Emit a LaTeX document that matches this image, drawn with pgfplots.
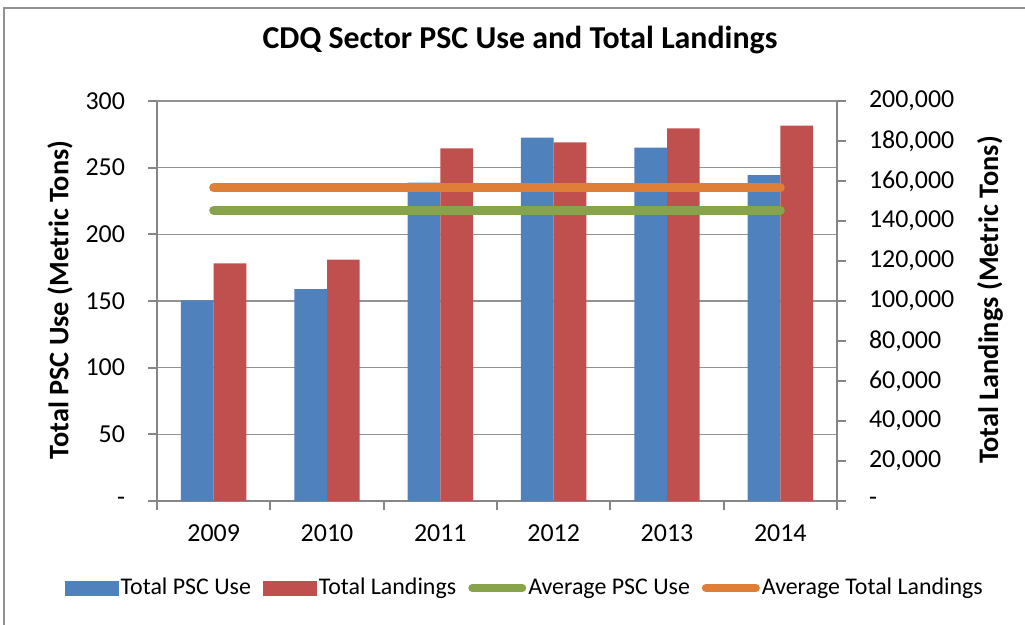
\documentclass[border=0pt]{standalone}
\usepackage{fontspec}
\setmainfont{Carlito}
\usepackage{pgfplots}
\pgfplotsset{compat=1.18}

\definecolor{pscblue}{HTML}{4F81BD}
\definecolor{landred}{HTML}{C0504D}
\definecolor{avggreen}{HTML}{88A44B}
\definecolor{avgorange}{HTML}{DF7E36}
\definecolor{axisgray}{HTML}{868686}

\pgfplotsset{
  cdqbase/.style={
    scale only axis, width=340bp, height=200bp,
    xmin=-0.5, xmax=5.5,
    font=\fontsize{13}{15}\selectfont,
    tick align=outside, major tick length=4.5bp,
    axis line style={axisgray, line width=0.9bp},
    tick style={axisgray, line width=0.9bp},
    /pgf/number format/assume math mode=true,
    scaled y ticks=false,
  },
}

\begin{document}
\begin{tikzpicture}
\useasboundingbox (-78.5bp,-62bp) rectangle (434bp,250.5bp);
% outer chart frame
\draw[axisgray!90, line width=1.2bp] (-76.5bp,-80bp) -- (-76.5bp,246.5bp) -- (450bp,246.5bp);

% left axis: PSC use (metric tons)
\begin{axis}[cdqbase,
  ymin=0, ymax=300,
  axis x line*=bottom, axis y line*=left,
  xtick={-0.5,0.5,1.5,2.5,3.5,4.5,5.5}, xticklabels={},
  extra x ticks={0,1,2,3,4,5},
  extra x tick labels={2009,2010,2011,2012,2013,2014},
  extra x tick style={major tick length=0pt,
    xticklabel style={yshift=-8.5bp}},
  ytick={0,50,100,150,200,250,300},
  yticklabels={-,50,100,150,200,250,300},
  yticklabel style={xshift=-8bp},
  ymajorgrids, major grid style={axisgray!90, line width=0.65bp},
]
\addplot[ybar, fill=pscblue, draw=none, bar width=16.35bp, bar shift=-8.175bp]
  coordinates {(0,150.5) (1,159) (2,238.8) (3,272.5) (4,265) (5,244.5)};
\end{axis}

% right axis: total landings (metric tons)
\begin{axis}[cdqbase,
  ymin=0, ymax=200000,
  axis x line=none, axis y line*=right,
  ytick={0,20000,40000,60000,80000,100000,120000,140000,160000,180000,200000},
  yticklabels={-,{20,000},{40,000},{60,000},{80,000},{100,000},{120,000},{140,000},{160,000},{180,000},{200,000}},
  yticklabel style={xshift=8bp},
]
\addplot[ybar, fill=landred, draw=none, bar width=16.35bp, bar shift=8.175bp]
  coordinates {(0,118850) (1,120650) (2,176350) (3,179350) (4,186350) (5,187650)};
\addplot[avgorange, line width=4.5bp, line cap=round]
  coordinates {(0,156650) (5,156650)};
\end{axis}

% average PSC use on the left scale, plus the legend
\begin{axis}[cdqbase,
  ymin=0, ymax=300, hide axis,
  legend columns=4,
  legend style={at={(0.541,-0.2175)}, anchor=center, draw=none, fill=none,
    font=\fontsize{12}{14}\selectfont, inner sep=0pt,
    nodes={inner sep=1bp},
    /tikz/every even column/.append style={column sep=5bp}},
]
\addlegendimage{legend image code/.code={\fill[pscblue] (0bp,-3.5bp) rectangle (26.5bp,3.5bp);}}
\addlegendentry{Total PSC Use}
\addlegendimage{legend image code/.code={\fill[landred] (0bp,-3.5bp) rectangle (26.5bp,3.5bp);}}
\addlegendentry{Total Landings}
\addlegendimage{legend image code/.code={\draw[avggreen, line width=4bp, line cap=round] (2bp,0bp) -- (27bp,0bp);}}
\addlegendentry{Average PSC Use}
\addlegendimage{legend image code/.code={\draw[avgorange, line width=4bp, line cap=round] (2bp,0bp) -- (27bp,0bp);}}
\addlegendentry{Average Total Landings}
\addplot[avggreen, line width=4.5bp, line cap=round, forget plot]
  coordinates {(0,218) (5,218)};
\end{axis}

\node[font=\bfseries\fontsize{16}{18}\selectfont, anchor=base] at (181.5bp,226bp)
  {CDQ Sector PSC Use and Total Landings};
\node[font=\bfseries\fontsize{14.2}{16}\selectfont, rotate=90] at (-48.5bp,100.5bp)
  {Total PSC Use (Metric Tons)};
\node[font=\bfseries\fontsize{14.2}{16}\selectfont, rotate=90] at (416.5bp,100.5bp)
  {Total Landings (Metric Tons)};
\end{tikzpicture}
\end{document}
